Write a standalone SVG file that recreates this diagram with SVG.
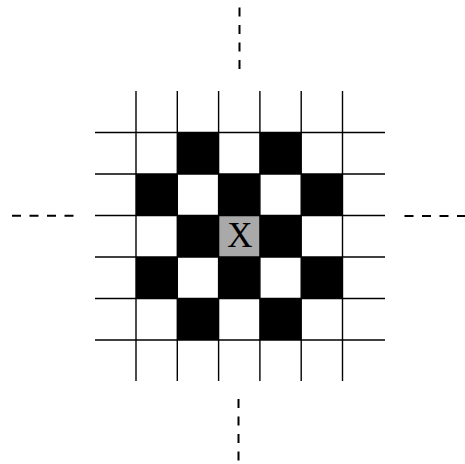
<svg xmlns="http://www.w3.org/2000/svg" width="465" height="464" viewBox="0 0 465 464">
<style>
.grid line{stroke:#000;stroke-width:1.4}
.blk{fill:#000}
.dash{stroke:#000;stroke-width:2;stroke-dasharray:9 8.5;fill:none}
.lbl{font-family:"Liberation Serif",serif;font-size:35px;fill:#000;text-anchor:middle}
</style>
<rect width="465" height="464" fill="#fff"/>
<g id="cells">
<rect class="blk" x="177.3" y="132.5" width="41.3" height="41.5"/>
<rect class="blk" x="259.9" y="132.5" width="41.3" height="41.5"/>
<rect class="blk" x="136" y="174" width="41.3" height="41.5"/>
<rect class="blk" x="218.6" y="174" width="41.3" height="41.5"/>
<rect class="blk" x="301.2" y="174" width="41.3" height="41.5"/>
<rect class="blk" x="177.3" y="215.5" width="41.3" height="41.5"/>
<rect class="blk" x="259.9" y="215.5" width="41.3" height="41.5"/>
<rect class="blk" x="136" y="257" width="41.3" height="41.5"/>
<rect class="blk" x="218.6" y="257" width="41.3" height="41.5"/>
<rect class="blk" x="301.2" y="257" width="41.3" height="41.5"/>
<rect class="blk" x="177.3" y="298.5" width="41.3" height="41.5"/>
<rect class="blk" x="259.9" y="298.5" width="41.3" height="41.5"/>
</g>
<g id="center">
<rect x="218.6" y="215.5" width="41.3" height="41.5" fill="#a9a9a9"/>
<text class="lbl" x="240" y="246.5">X</text>
</g>
<g class="grid" id="grid">
<line x1="136" y1="91" x2="136" y2="381"/>
<line x1="177.3" y1="91" x2="177.3" y2="381"/>
<line x1="218.6" y1="91" x2="218.6" y2="381"/>
<line x1="259.9" y1="91" x2="259.9" y2="381"/>
<line x1="301.2" y1="91" x2="301.2" y2="381"/>
<line x1="342.5" y1="91" x2="342.5" y2="381"/>
<line x1="95" y1="132.5" x2="385" y2="132.5"/>
<line x1="95" y1="174" x2="385" y2="174"/>
<line x1="95" y1="215.5" x2="385" y2="215.5"/>
<line x1="95" y1="257" x2="385" y2="257"/>
<line x1="95" y1="298.5" x2="385" y2="298.5"/>
<line x1="95" y1="340" x2="385" y2="340"/>
</g>
<g id="connectors">
<line class="dash" x1="239.5" y1="7.5" x2="239.5" y2="71"/>
<line class="dash" x1="238.5" y1="399" x2="238.5" y2="461"/>
<line class="dash" x1="12" y1="215.7" x2="75" y2="215.7"/>
<line class="dash" x1="404.5" y1="216" x2="465" y2="216"/>
</g>
</svg>
